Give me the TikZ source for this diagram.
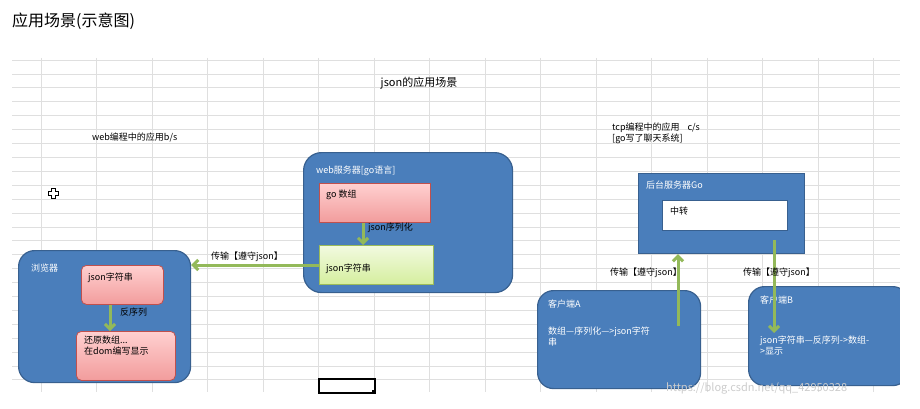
\documentclass[tikz,border=0pt]{standalone}
\usepackage{fontspec}
\setmainfont{Noto Sans CJK SC}
\usetikzlibrary{arrows.meta}
\begin{document}
\begin{tikzpicture}[x=1pt,y=-1pt,
  every node/.style={font=\fontsize{9}{11}\selectfont, inner sep=0pt},
  blue/.style={fill=myblue, draw=myblueb, line width=1.2pt},
  pinkbox/.style={draw=pinkb, line width=0.8pt, top color=pinkt, bottom color=pinkd},
  greenbox/.style={draw=greenb, line width=0.8pt, top color=greent, bottom color=greend},
  garrow/.style={draw=garr, line width=3pt, -{Straight Barb[length=5pt,width=10pt]}},
  wlab/.style={text=white, anchor=west}]
\definecolor{myblue}{HTML}{4A7EBB}
\definecolor{myblueb}{HTML}{38608F}
\definecolor{pinkt}{HTML}{FFD0D0}
\definecolor{pinkd}{HTML}{F29C9C}
\definecolor{pinkb}{HTML}{C0504D}
\definecolor{greent}{HTML}{F2FAE0}
\definecolor{greend}{HTML}{D5EE9E}
\definecolor{greenb}{HTML}{9BBB59}
\definecolor{garr}{HTML}{93B95A}
\useasboundingbox (0,0) rectangle (920,409);
% grid
\foreach \i in {0,...,23} \draw[gray!25, line width=0.6pt] (12,{60+\i*13.9}) -- (900,{60+\i*13.9});
\foreach \i in {0,...,15} \draw[gray!25, line width=0.6pt] ({41+\i*55.5},58) -- ({41+\i*55.5},392);
\node[anchor=west, font=\fontsize{16}{18}\selectfont] (title) at (12,21) {应用场景(示意图)};
\node (t1) at (419,83) {\fontsize{11}{13}\selectfont json的应用场景};
\node[anchor=west] (t2) at (92,137) {web编程中的应用b/s};
\node[anchor=north west, align=left] (t3) at (612,123) {tcp编程中的应用\hspace{8pt}c/s\\{}[go写了聊天系统]};
% browser
\node[blue, rounded corners=16pt, minimum width=172pt, minimum height=132pt, anchor=north west] (br) at (18,250) {};
\node[wlab] (brl) at (31,268) {浏览器};
\node[pinkbox, rounded corners=5pt, minimum width=82pt, minimum height=39pt, anchor=north west] (b1) at (81,265) {};
\node[anchor=west] (b1t) at (88,278) {json字符串};
\node[pinkbox, rounded corners=5pt, minimum width=99pt, minimum height=49pt, anchor=north west] (b2) at (76,331) {};
\node[anchor=north west, align=left] (b2t) at (84,336) {还原数组...\\在dom编写显示};
\draw[garrow] (b1.south -| 110,0) -- (b2.north -| 110,0);
\node[anchor=west] (b3) at (120,312) {反序列};
% web server
\node[blue, rounded corners=18pt, minimum width=209pt, minimum height=140pt, anchor=north west] (ws) at (303,152) {};
\node[wlab] (wsl) at (316,171) {web服务器[go语言]};
\node[pinkbox, minimum width=111pt, minimum height=39pt, anchor=north west] (w1) at (319,183) {};
\node[anchor=west] (w1t) at (326,195) {go 数组};
\node[greenbox, minimum width=114pt, minimum height=39pt, anchor=north west] (w2) at (319,245) {};
\node[anchor=west] (w2t) at (326,269) {json字符串};
\draw[garrow] (w1.south -| 363,0) -- (w2.north -| 363,0);
\node[anchor=west] (w3) at (368,228) {json序列化};
\draw[garrow] (w2.west |- 0,265) -- (br.east |- 0,265);
\node[anchor=west] (tr1) at (211,257) {传输【遵守json】};
% backend
\node[blue, minimum width=166pt, minimum height=80pt, anchor=north west] (bk) at (638,173) {};
\node[wlab] (bkl) at (646,185) {后台服务器Go};
\node[fill=white, draw=myblueb, minimum width=125pt, minimum height=30pt, anchor=north west] (zz) at (662,200) {};
\node[anchor=west] (zzt) at (670,211) {中转};
% clients
\node[blue, rounded corners=16pt, minimum width=163pt, minimum height=98pt, anchor=north west] (ca) at (537,290) {};
\node[wlab] (cal) at (548,304) {客户端A};
\node[text=white, anchor=north west, align=left] (cat) at (548,327) {数组---序列化--->json字符\\串};
\node[blue, rounded corners=16pt, minimum width=160pt, minimum height=99pt, anchor=north west] (cb) at (748,286) {};
\node[wlab] (cbl) at (760,300) {客户端B};
\node[text=white, anchor=north west, align=left] (cbt) at (760,336) {json字符串---反序列->数组-\\>显示};
\fill[white] (900,280) rectangle (920,400);
\draw[garrow] (678,326) -- (bk.south -| 678,0);
\draw[garrow] (774,240) -- (774,333);
\node[anchor=west] (tr2) at (610,273) {传输【遵守json】};
\node[anchor=west] (tr3) at (743,273) {传输【遵守json】};
% cell selection and cursor
\node[draw=black, line width=1.5pt, minimum width=56pt, minimum height=14pt, anchor=north west] (sel) at (318,378) {};
\fill[black] (372,390) rectangle (375,393);
\draw[black, fill=white, line width=0.7pt] (51,188)--(55,188)--(55,191)--(58,191)--(58,195)--(55,195)--(55,198)--(51,198)--(51,195)--(48,195)--(48,191)--(51,191)--cycle;
\node[anchor=west, text=gray!40, font=\fontsize{11}{13}\selectfont] (wm) at (666,388) {https://blog.csdn.net/qq\_42950328};
\end{tikzpicture}
\end{document}
